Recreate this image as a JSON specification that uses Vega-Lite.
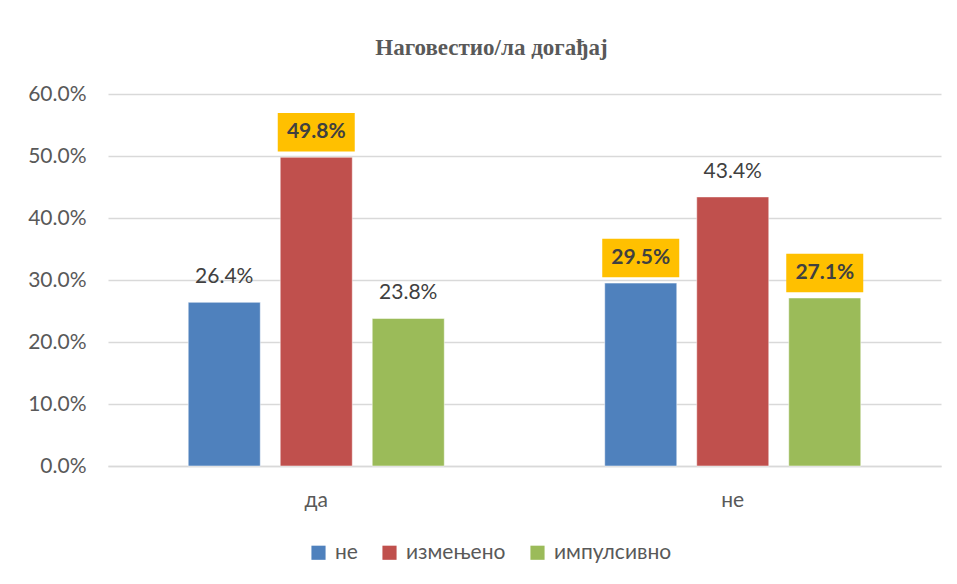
{
  "$schema": "https://vega.github.io/schema/vega-lite/v6.json",
  "width": 833,
  "height": 372,
  "autosize": {"type": "none"},
  "padding": {"left": 108, "top": 94, "right": 16, "bottom": 118},
  "background": "white",
  "title": {
    "text": "Наговестио/ла  догађај",
    "font": "Liberation Serif",
    "fontSize": 23,
    "fontWeight": "bold",
    "color": "#595959",
    "anchor": "middle",
    "frame": "group",
    "dx": -33,
    "offset": 23
  },
  "config": {
    "view": {"stroke": null},
    "font": "Lato",
    "axis": {"labelFont": "Lato", "labelColor": "#595959", "labelFontSize": 21, "ticks": false},
    "legend": {"labelFont": "Lato", "labelColor": "#595959", "labelFontSize": 21}
  },
  "data": {
    "values": [
      {"group": "да", "series": "не", "value": 26.4},
      {"group": "да", "series": "измењено", "value": 49.8},
      {"group": "да", "series": "импулсивно", "value": 23.8},
      {"group": "не", "series": "не", "value": 29.5},
      {"group": "не", "series": "измењено", "value": 43.4},
      {"group": "не", "series": "импулсивно", "value": 27.1}
    ]
  },
  "transform": [
    {"joinaggregate": [{"op": "max", "field": "value", "as": "maxv"}], "groupby": ["series"]},
    {"calculate": "format(datum.value, '.1f') + '%'", "as": "label"}
  ],
  "encoding": {
    "x": {
      "field": "group", "type": "nominal", "sort": ["да", "не"],
      "scale": {"paddingInner": 0, "paddingOuter": 0},
      "axis": {"title": null, "labelAngle": 0, "domainColor": "#D9D9D9", "domainWidth": 1.5, "labelPadding": 23, "grid": false}
    },
    "xOffset": {
      "field": "series", "type": "nominal", "sort": ["не", "измењено", "импулсивно"],
      "scale": {"paddingInner": 0.217, "paddingOuter": 0.872}
    },
    "y": {
      "field": "value", "type": "quantitative",
      "scale": {"domain": [0, 60], "nice": false},
      "axis": {
        "title": null, "values": [0, 10, 20, 30, 40, 50, 60],
        "labelExpr": "format(datum.value, '.1f') + '%'",
        "domain": false, "gridColor": "#D9D9D9", "gridWidth": 1.5, "labelPadding": 22
      }
    }
  },
  "layer": [
    {
      "mark": {"type": "bar", "stroke": "white", "strokeWidth": 0.5},
      "encoding": {
        "color": {
          "field": "series", "type": "nominal", "sort": ["не", "измењено", "импулсивно"],
          "scale": {"domain": ["не", "измењено", "импулсивно"], "range": ["#4F81BD", "#C0504D", "#9BBB59"]},
          "legend": {
            "title": null, "orient": "none", "direction": "horizontal",
            "legendX": 200, "legendY": 448,
            "symbolType": "square", "symbolSize": 200, "symbolStrokeWidth": 0,
            "columnPadding": 21, "labelOffset": 6
          }
        }
      }
    },
    {
      "transform": [{"filter": "datum.value == datum.maxv"}],
      "mark": {
        "type": "point", "shape": "M-1,-0.5H1V0.5H-1Z", "size": 5929,
        "filled": true, "color": "#FFC000", "opacity": 1, "yOffset": -25
      }
    },
    {
      "transform": [{"filter": "datum.value == datum.maxv"}],
      "mark": {"type": "text", "yOffset": -25, "baseline": "middle", "fontSize": 21, "fontWeight": "bold", "color": "#404040", "font": "Lato"},
      "encoding": {"text": {"field": "label", "type": "nominal"}}
    },
    {
      "transform": [{"filter": "datum.value < datum.maxv"}],
      "mark": {"type": "text", "yOffset": -25, "baseline": "middle", "fontSize": 21, "color": "#404040", "font": "Lato"},
      "encoding": {"text": {"field": "label", "type": "nominal"}}
    }
  ]
}
